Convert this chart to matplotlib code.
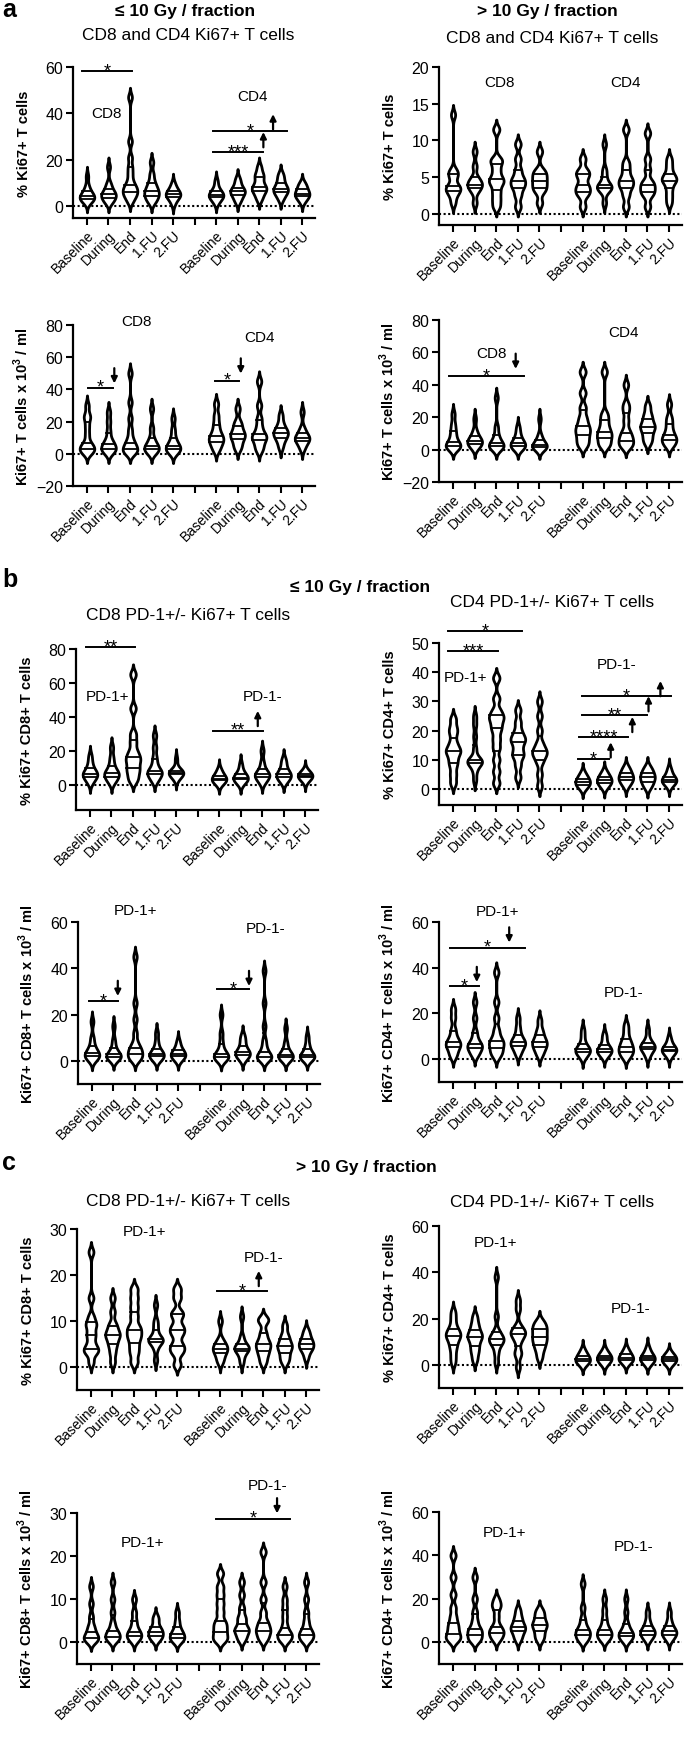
import numpy as np
import matplotlib.pyplot as plt

plt.rcParams['font.family'] = ['Liberation Sans', 'DejaVu Sans']
plt.rcParams['mathtext.fontset'] = 'custom'
plt.rcParams['mathtext.rm'] = 'Liberation Sans'
plt.rcParams['mathtext.bf'] = 'Liberation Sans:bold'

W, H = 685, 1740
groups = ['Baseline', 'During', 'End', '1.FU', '2.FU']
positions = [0, 1, 2, 3, 4, 6, 7, 8, 9, 10]

# ---- data (one list of values per violin; first 5 = CD8 / PD-1+, last 5 = CD4 / PD-1-)
pct_le10 = [
    [1.5, 2.5, 3, 3.5, 4, 4.5, 5, 6, 7, 9, 13],
    [1.5, 2.5, 3.5, 4.5, 5, 5.5, 6.5, 8, 10, 17],
    [2, 4, 5, 6, 7, 8, 9, 11, 14, 17, 21, 28, 47],
    [1.5, 3, 4, 5, 6, 6.5, 8, 9, 11, 14, 19],
    [1, 3, 4, 4.5, 5, 5.5, 6, 7, 8, 10],
    [1.5, 3, 4, 4.5, 5, 5.5, 6.5, 8, 11],
    [2, 3.5, 5, 6, 6.5, 7, 8, 10, 12],
    [3, 5, 6.5, 7.5, 8, 9, 11, 13, 14, 17],
    [3, 5, 6, 7, 7.5, 8.5, 10, 12, 14],
    [2, 3.5, 4.5, 5, 5.5, 6.5, 7.5, 9, 10],
]
pct_gt10 = [
    [1.5, 2.5, 3, 3.5, 3.5, 4, 5, 5.5, 6, 13.5],
    [1.5, 3, 3.5, 4, 4, 4.5, 5, 6.5, 8.5],
    [1, 2, 3, 4, 4.5, 5, 6, 7, 7.5, 11.5],
    [1, 2.5, 3.5, 4, 4.5, 5, 6, 7.5, 9.5],
    [1.5, 3, 3.5, 4, 4.5, 5, 5.5, 6, 8.5],
    [1, 2.5, 3, 3.5, 4, 5, 5.5, 6, 7.5],
    [1.5, 3, 3.5, 3.5, 4, 4, 5, 6, 9.5],
    [1, 2.5, 3.5, 4, 4.5, 5, 6, 7, 11.5],
    [1, 2.5, 3, 3.5, 4, 4.5, 6, 7.5, 11],
    [1.5, 2.5, 3.5, 4.5, 4.5, 5, 5.5, 6.5, 7.5],
]
cnt_le10 = [
    [0.5, 1.5, 2.5, 4, 5, 7, 12, 17, 22, 24, 30],
    [0.5, 1.5, 3, 4, 5, 7, 9, 14, 20, 26],
    [0.5, 1, 2, 4, 5, 7, 10, 15, 22, 32, 50],
    [0.5, 1.5, 3, 4, 5, 7, 10, 16, 28],
    [0.5, 1.5, 3, 4, 5, 7, 10, 15, 22],
    [2, 5, 7, 9, 10, 12, 15, 19, 24, 31],
    [3, 6, 9, 11, 12, 14, 17, 20, 28],
    [2, 5, 8, 10, 11, 13, 17, 22, 30, 45],
    [4, 8, 10, 12, 13, 14, 16, 19, 24],
    [3, 6, 8, 9, 10, 11, 13, 16, 26],
]
cnt_gt10 = [
    [0.5, 1, 2, 3, 4, 6, 9, 12, 16, 22],
    [1, 2, 3.5, 4.5, 5, 6, 7, 9, 12, 19],
    [0.5, 1, 2, 3, 4, 6, 9, 14, 32],
    [0.5, 1, 2, 3, 4, 5, 7, 10, 14],
    [0.5, 1, 1.5, 2, 3, 4, 6, 9, 19],
    [2, 5, 8, 11, 13, 16, 20, 26, 35, 48],
    [2, 4, 7, 9, 11, 14, 18, 22, 48],
    [1.5, 3, 5, 7, 9, 12, 18, 24, 28, 40],
    [4, 7, 10, 13, 14, 16, 19, 22, 27],
    [2, 4, 6, 7, 9, 12, 16, 20, 28],
]
cd8pd1_pct_le10 = [
    [1, 3, 4.5, 5.5, 6, 7, 8, 10, 13, 17],
    [1, 3, 4.5, 5.5, 6.5, 7.5, 9, 12, 16, 22],
    [2, 5, 8, 10, 13, 15, 17, 20, 25, 30, 45, 65],
    [2, 4, 6, 7, 7.5, 9, 12, 16, 22, 29],
    [3, 5, 6, 6.5, 7, 7.5, 8, 9, 15],
    [0.5, 1.5, 2.5, 3, 3.5, 4, 5, 7, 9],
    [0.5, 2, 3, 3.5, 4, 5, 6, 8, 12],
    [1, 3, 4.5, 5.5, 6, 7, 9, 13, 20],
    [1.5, 3, 4.5, 5.5, 6, 7, 9, 12, 15],
    [2, 3.5, 4.5, 5, 5, 5.5, 6, 7, 8.5],
]
cd4pd1_pct_le10 = [
    [2, 5, 8, 10, 12, 13, 14, 16, 19, 21, 24],
    [3, 6, 8, 9, 9, 9.5, 10, 11, 14, 18, 22, 25],
    [2, 6, 10, 14, 17, 20, 22, 24, 25, 27, 31, 38],
    [4, 8, 11, 12, 14, 16, 17, 18, 20, 23, 27],
    [1, 5, 9, 11, 12, 13, 14, 16, 20, 25, 30],
    [0.3, 1, 1.5, 2, 2.5, 3, 3.5, 4.5, 5.5],
    [0.5, 1.5, 2, 2.5, 3, 3.5, 4, 5, 6],
    [1, 2, 3, 3.5, 4, 4.5, 5.5, 6.5, 7.5],
    [0.5, 1.5, 2.5, 3.5, 4, 4.5, 5.5, 6.5, 7.5],
    [1, 2, 2.5, 3, 3, 3.5, 4, 5.5, 7],
]
cd8pd1_cnt_le10 = [
    [0.3, 1, 2, 2.5, 3, 4, 5, 7, 10, 17],
    [0.5, 1, 1.5, 2, 2.5, 3, 4, 6, 9, 15],
    [0.3, 1, 2, 3, 4, 5, 6, 8, 12, 18, 25, 45],
    [0.5, 1, 2, 2.5, 3, 4, 5, 8, 12],
    [0.5, 1, 2, 2.5, 3, 3.5, 4.5, 6, 8.5],
    [0.2, 0.8, 1.5, 2, 2.5, 3.5, 5, 8, 12, 20],
    [0.5, 1.5, 2.5, 3, 3.5, 4, 5, 7, 9, 11],
    [0.3, 1, 1.5, 2, 2.5, 4, 6, 9, 15, 25, 39],
    [0.3, 1, 1.5, 2, 2.5, 3.5, 5, 8, 14],
    [0.5, 1, 1.5, 2, 2.5, 3, 5, 7, 10.5],
]
cd4pd1_cnt_le10 = [
    [1, 3, 5, 6, 7, 8, 10, 13, 18, 22],
    [1.5, 3, 4.5, 5.5, 6, 7, 9, 12, 18, 25],
    [1, 3, 4, 6, 7, 8, 10, 13, 18, 25, 38],
    [2, 4, 5.5, 6.5, 7, 8, 9, 11, 14, 18],
    [1.5, 3.5, 5, 6, 7, 8, 9, 11, 13, 17],
    [0.5, 2, 3, 3.5, 4, 4.5, 5.5, 7, 10, 13],
    [1, 2, 3, 3.5, 4, 4.5, 5, 6.5, 9, 11],
    [0.5, 2, 3, 4, 5, 6, 7.5, 9, 12, 15],
    [1, 3, 4.5, 5, 5.5, 6, 7, 9, 13],
    [1, 2.5, 3.5, 4, 4, 4.5, 5.5, 7, 9.5],
]
cd8pd1_pct_gt10 = [
    [1, 3, 3.5, 4, 5, 6.5, 7.5, 9, 9.5, 11, 15, 25],
    [1, 3, 4.5, 5.5, 6.5, 7, 7.5, 8.5, 9.5, 12, 15],
    [1, 3, 4.5, 6, 7, 8, 9, 11, 13, 15, 17],
    [1.5, 4, 5.5, 5.5, 6, 6, 7, 8.5, 10, 13.5],
    [0.5, 3, 4, 5, 7, 8, 9, 11, 12, 15, 17],
    [1, 2, 3, 3.5, 4, 4.5, 5, 6, 10],
    [1, 2.5, 3.5, 4, 4, 4.5, 5, 6.5, 11],
    [1, 2.5, 3.5, 4.5, 5, 6, 7.5, 10, 10.5],
    [1, 2, 3, 4, 4.5, 5, 6, 7, 9],
    [2, 3.5, 4, 4.5, 5, 5.5, 6, 7, 8],
]
cd4pd1_pct_gt10 = [
    [1, 4, 7, 9, 11, 12, 13, 14, 15, 17, 20, 23],
    [2, 5, 7, 9, 11, 12, 13, 14, 16, 18, 21],
    [1, 5, 8, 9.5, 10.5, 11, 12, 13, 15, 21, 38],
    [-1, 4, 6, 10, 12, 13.5, 14, 15, 17, 24, 28],
    [3, 6, 8, 9.5, 11, 12, 13.5, 15, 16, 17.5, 19],
    [0.3, 1, 1.5, 2, 2.5, 3, 4, 5, 6.5],
    [0.5, 1, 2, 2.5, 3, 3.5, 4, 5, 6.5],
    [1, 1.5, 2, 2.5, 3, 3.5, 4.5, 5.5, 7],
    [0.5, 1, 2, 2.5, 3, 3.5, 4, 5.5, 7.5],
    [0.5, 1, 1.5, 2, 2.5, 3, 3.5, 4.5, 5],
]
cd8pd1_cnt_gt10 = [
    [0.2, 0.5, 1, 1.5, 2, 3, 4, 6, 9, 13],
    [0.3, 0.8, 1.2, 1.8, 2.3, 3, 4.5, 7, 10, 14],
    [0.3, 1, 1.5, 2, 2.5, 3.5, 5, 7, 10],
    [0.5, 1, 1.5, 2, 2.5, 3, 3.5, 5, 6],
    [0.2, 0.5, 1, 1.5, 2, 2.5, 3.5, 5, 7],
    [0.3, 1, 2, 3, 4, 5, 7, 9, 11, 13, 16],
    [0.5, 1.5, 2.5, 3, 3.5, 5, 6, 8, 11, 14],
    [0.5, 1.5, 2.5, 3, 4, 5, 7, 10, 14, 21],
    [0.3, 0.8, 1.5, 2, 2.5, 4, 6, 8, 10, 13],
    [0.3, 0.8, 1.5, 2, 2.5, 3.5, 5, 7, 10, 14],
]
cd4pd1_cnt_gt10 = [
    [0.5, 2, 3, 5, 7, 9, 12, 16, 22, 30, 40],
    [0.5, 1.5, 3, 4.5, 5.5, 7, 10, 14, 20, 30],
    [1, 2.5, 4, 5, 6, 8, 12, 16, 17.5, 20],
    [1, 3, 5, 6, 7, 8, 10, 12, 15],
    [1, 3, 5, 7, 8, 9, 11, 13, 15],
    [0.5, 1.5, 3, 4, 5, 6, 8, 11, 16, 27],
    [0.8, 2, 3, 4, 5, 6, 8, 11, 15, 20],
    [0.5, 1.5, 2.5, 3.5, 4, 5, 6.5, 9, 14, 20],
    [1, 2.5, 3.5, 4.5, 5, 6, 7.5, 10, 14],
    [1, 2.5, 3.5, 4.5, 5, 6, 7.5, 10, 14],
]

CNT = 'x 10$^{\\mathbf{3}}$ / ml'

# panel layout: (data, box px (left, right, top, bottom), ylim, yticks, ylabel, labels, brackets)
# bracket: (x0, x1, y, stars, arrow) ; arrow = (x, tip_y, 'up'/'down') or None
panels = [
    (pct_le10, (73, 315, 68, 219), (-5, 60), [0, 20, 40, 60], '% Ki67+ T cells',
     [('CD8', 0.9, 40), ('CD4', 7.7, 47.5)],
     [(-0.25, 2.1, 58.3, '*', None),
      (5.86, 9.3, 32.5, '*', (8.65, 39.7, 'up')),
      (5.86, 8.2, 23.4, '***', (8.2, 32, 'up'))]),
    (pct_gt10, (439, 682, 68, 226), (-1.5, 20), [0, 5, 10, 15, 20], '% Ki67+ T cells',
     [('CD8', 2.15, 18), ('CD4', 8.0, 18)], []),
    (cnt_le10, (73, 315, 326, 487), (-20, 80), [-20, 0, 20, 40, 60, 80], 'Ki67+ T cells ' + CNT,
     [('CD8', 2.3, 82.7), ('CD4', 8.0, 72.8)],
     [(0.05, 1.2, 41, '*', (1.27, 43.7, 'down')),
      (5.95, 7.07, 45.5, '*', (7.15, 49.8, 'down'))]),
    (cnt_gt10, (439, 682, 321, 483), (-20, 80), [-20, 0, 20, 40, 60, 80], 'Ki67+ T cells ' + CNT,
     [('CD8', 1.8, 59.8), ('CD4', 7.9, 72.8)],
     [(-0.2, 3.3, 45.5, '*', (2.9, 49.8, 'down'))]),
    (cd8pd1_pct_le10, (76, 318, 650, 811), (-15, 80), [0, 20, 40, 60, 80], '% Ki67+ CD8+ T cells',
     [('PD-1+', 0.8, 52.4), ('PD-1-', 8.0, 52)],
     [(-0.2, 2.1, 81, '**', None),
      (5.7, 8.05, 31.8, '**', (7.8, 43.5, 'up'))]),
    (cd4pd1_pct_le10, (439, 682, 644, 806), (-5.5, 50), [0, 10, 20, 30, 40, 50], '% Ki67+ CD4+ T cells',
     [('PD-1+', 0.6, 38.4), ('PD-1-', 7.55, 42.8)],
     [(-0.25, 3.2, 54, '*', None),
      (-0.25, 2.1, 47.3, '***', None),
      (5.95, 10.1, 31.8, '*', (9.6, 37, 'up')),
      (5.95, 9.0, 25.3, '**', (9.05, 31.8, 'up')),
      (5.85, 8.1, 17.8, '****', (8.3, 24.7, 'up')),
      (5.8, 7.2, 10.3, '*', (7.3, 16, 'up'))]),
    (cd8pd1_cnt_le10, (78, 320, 923, 1085), (-10, 60), [0, 20, 40, 60], 'Ki67+ CD8+ T cells ' + CNT,
     [('PD-1+', 2.0, 65.4), ('PD-1-', 8.05, 57.6)],
     [(-0.13, 1.2, 25.8, '*', (1.2, 28, 'down')),
      (5.8, 7.3, 31, '*', (7.3, 32.3, 'down'))]),
    (cd4pd1_cnt_le10, (439, 682, 923, 1083), (-10, 60), [0, 20, 40, 60], 'Ki67+ CD4+ T cells ' + CNT,
     [('PD-1+', 2.05, 64.8), ('PD-1-', 7.9, 29.4)],
     [(-0.15, 3.35, 48.8, '*', (2.6, 51, 'down')),
      (-0.15, 1.2, 32, '*', (1.1, 33.7, 'down'))]),
    (cd8pd1_pct_gt10, (77, 319, 1230, 1391), (-5, 30), [0, 10, 20, 30], '% Ki67+ CD8+ T cells',
     [('PD-1+', 2.5, 29.6), ('PD-1-', 8.0, 23.9)],
     [(5.86, 8.2, 16.5, '*', (7.8, 20.9, 'up'))]),
    (cd4pd1_pct_gt10, (439, 682, 1227, 1389), (-10, 60), [0, 20, 40, 60], '% Ki67+ CD4+ T cells',
     [('PD-1+', 1.96, 52.9), ('PD-1-', 8.2, 24.5)], []),
    (cd8pd1_cnt_gt10, (77, 319, 1514, 1665), (-5, 30), [0, 10, 20, 30], 'Ki67+ CD8+ T cells ' + CNT,
     [('PD-1+', 2.4, 23.3), ('PD-1-', 8.2, 36.5)],
     [(5.8, 9.25, 28.7, '*', (8.65, 29.9, 'down'))]),
    (cd4pd1_cnt_gt10, (439, 682, 1513, 1665), (-10, 60), [0, 20, 40, 60], 'Ki67+ CD4+ T cells ' + CNT,
     [('PD-1+', 2.4, 51), ('PD-1-', 8.35, 44.5)], []),
]


def violin(ax, pos, vals, bw, half=0.34):
    v = np.asarray(vals, float)
    y = np.linspace(v.min() - 2.5 * bw, v.max() + 2.5 * bw, 500)
    d = np.exp(-0.5 * ((y[:, None] - v[None, :]) / bw) ** 2).sum(axis=1)
    w = half * d / d.max()
    ax.fill_betweenx(y, pos - w, pos + w, facecolor='white', edgecolor='black',
                     lw=2.0, zorder=3)
    for q in np.percentile(v, [25, 50, 75]):
        wq = np.interp(q, y, w)
        ax.plot([pos - wq, pos + wq], [q, q], color='black', lw=1.3, zorder=4)


fig = plt.figure(figsize=(W / 100, H / 100), dpi=100)
fig.patch.set_facecolor('white')

for data, (l, r, top, bot), ylim, yticks, ylabel, labels, brackets in panels:
    ax = fig.add_axes([l / W, 1 - bot / H, (r - l) / W, (bot - top) / H])
    bw = 0.025 * (ylim[1] - ylim[0])
    for pos, vals in zip(positions, data):
        violin(ax, pos, vals, bw)
    ax.axhline(0, color='black', lw=1.5, ls=(0, (1, 1.2)), zorder=2)
    ax.set_xlim(-0.65, 10.6)
    ax.set_ylim(*ylim)
    ax.set_yticks(yticks)
    ax.set_xticks(range(11))
    ax.set_xticklabels(groups + [''] + groups, rotation=45, ha='right', va='top',
                       rotation_mode='anchor', fontsize=10)
    ax.tick_params(axis='y', labelsize=11.5)
    ax.tick_params(direction='out', length=5, width=1.5, pad=2)
    for s in ['top', 'right']:
        ax.spines[s].set_visible(False)
    for s in ['left', 'bottom']:
        ax.spines[s].set_linewidth(1.6)
    ax.set_ylabel(ylabel, fontsize=10.5, fontweight='bold')
    ax.yaxis.set_label_coords(-42 / (r - l), 0.5)

    for txt, x, y in labels:
        ax.text(x, y, txt, ha='center', va='center', fontsize=11)
    for x0, x1, y, stars, arrow in brackets:
        ax.plot([x0, x1], [y, y], color='black', lw=1.4, clip_on=False)
        ax.annotate(stars, xy=((x0 + x1) / 2, y), xytext=(0, -3), textcoords='offset points',
                    ha='center', va='baseline', fontsize=13, annotation_clip=False)
        if arrow is not None:
            ax_x, tip, d = arrow
            ax.annotate('', xy=(ax_x, tip), xytext=(0, -11 if d == 'up' else 11),
                        textcoords='offset points', annotation_clip=False,
                        arrowprops=dict(arrowstyle='-|>', lw=1.6, color='black',
                                        shrinkA=0, shrinkB=0, mutation_scale=9))

# section letters and titles
fig.text(2 / W, 1 - 17 / H, 'a', fontsize=18, fontweight='bold', va='baseline')
fig.text(2 / W, 1 - 587 / H, 'b', fontsize=18, fontweight='bold', va='baseline')
fig.text(2 / W, 1 - 1170 / H, 'c', fontsize=18, fontweight='bold', va='baseline')

fig.text(185 / W, 1 - 16 / H, '\u2264 10 Gy / fraction', fontsize=12.5, fontweight='bold',
         ha='center', va='baseline')
fig.text(547 / W, 1 - 16 / H, '> 10 Gy / fraction', fontsize=12.5, fontweight='bold',
         ha='center', va='baseline')
fig.text(188 / W, 1 - 40 / H, 'CD8 and CD4 Ki67+ T cells', fontsize=12.5, ha='center', va='baseline')
fig.text(552 / W, 1 - 43 / H, 'CD8 and CD4 Ki67+ T cells', fontsize=12.5, ha='center', va='baseline')

fig.text(360 / W, 1 - 592 / H, '\u2264 10 Gy / fraction', fontsize=12.5, fontweight='bold',
         ha='center', va='baseline')
fig.text(188 / W, 1 - 620 / H, 'CD8 PD-1+/- Ki67+ T cells', fontsize=12.5, ha='center', va='baseline')
fig.text(552 / W, 1 - 607 / H, 'CD4 PD-1+/- Ki67+ T cells', fontsize=12.5, ha='center', va='baseline')

fig.text(366 / W, 1 - 1172 / H, '> 10 Gy / fraction', fontsize=12.5, fontweight='bold',
         ha='center', va='baseline')
fig.text(188 / W, 1 - 1206 / H, 'CD8 PD-1+/- Ki67+ T cells', fontsize=12.5, ha='center', va='baseline')
fig.text(552 / W, 1 - 1207 / H, 'CD4 PD-1+/- Ki67+ T cells', fontsize=12.5, ha='center', va='baseline')

fig.savefig('out.png', dpi=100, facecolor='white')
